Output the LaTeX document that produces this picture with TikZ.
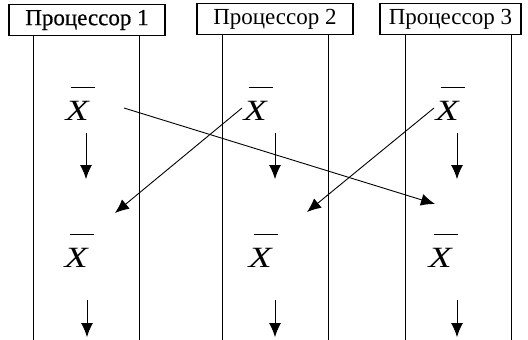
\documentclass[tikz,border=0pt]{standalone}
\usepackage{fontspec}
\setmainfont{Liberation Serif}
\newfontfamily\boxonefont[FakeBold=0.5]{Liberation Serif}
\usetikzlibrary{arrows.meta}
\newcommand\barredX{\vbox{\moveright 5pt\vbox{\hrule width 24pt height 0.9pt}\kern 3pt\hbox{\scalebox{1.35}[1.05]{\itshape X}}}}
\begin{document}
\begin{tikzpicture}[x=1pt,y=-1pt,
  procbox/.style={draw,line width=1.2pt,minimum height=31pt,inner sep=0pt,font=\fontsize{23}{25}\selectfont},
  lane/.style={line width=0.9pt},
  xlabel/.style={inner sep=0pt,font=\fontsize{28}{30}\selectfont},
  arr/.style={line width=0.9pt,-{Latex[length=14pt,width=12pt]}}]
\useasboundingbox (0,0) rectangle (528,340);
\node[procbox,minimum width=156pt,font=\boxonefont\fontsize{23}{25}\selectfont] (p1) at (87,20) {Процессор 1};
\node[procbox,minimum width=156pt] (p2) at (275,19) {Процессор 2};
\node[procbox,minimum width=141pt] (p3) at (450.5,19) {Процессор 3};
% lanes
\coordinate (l1a) at (33,340); \coordinate (l1b) at (139,340);
\coordinate (l2a) at (222,340); \coordinate (l2b) at (328,340);
\coordinate (l3a) at (405,340); \coordinate (l3b) at (511,340);
\draw[lane] (l1a) -- (l1a |- p1.south);
\draw[lane] (l1b) -- (l1b |- p1.south);
\draw[lane] (l2a) -- (l2a |- p2.south);
\draw[lane] (l2b) -- (l2b |- p2.south);
\draw[lane] (l3a) -- (l3a |- p3.south);
\draw[lane] (l3b) -- (l3b |- p3.south);
% labels
\node[xlabel] (x1a) at (80,104) {\barredX};
\node[xlabel] (x2a) at (258,104) {\barredX};
\node[xlabel] (x3a) at (450,104) {\barredX};
\node[xlabel] (x1b) at (79,251) {\barredX};
\node[xlabel] (x2b) at (263,251) {\barredX};
\node[xlabel] (x3b) at (443,251) {\barredX};
% down arrows
\coordinate (d1s) at (86,133); \coordinate (d1e) at (86,179);
\coordinate (d2s) at (275,133); \coordinate (d2e) at (275,179);
\coordinate (d3s) at (457,133); \coordinate (d3e) at (457,179);
\coordinate (e1s) at (87,300); \coordinate (e1e) at (87,337);
\coordinate (e2s) at (275,300); \coordinate (e2e) at (275,337);
\coordinate (e3s) at (457,300); \coordinate (e3e) at (457,337);
\draw[arr] (d1s) -- (d1e);
\draw[arr] (d2s) -- (d2e);
\draw[arr] (d3s) -- (d3e);
\draw[arr] (e1s) -- (e1e);
\draw[arr] (e2s) -- (e2e);
\draw[arr] (e3s) -- (e3e);
% cross arrows
\coordinate (c1s) at (124,108); \coordinate (c1e) at (435,204);
\coordinate (c2s) at (242,108); \coordinate (c2e) at (115,213);
\coordinate (c3s) at (434,108); \coordinate (c3e) at (307,212);
\draw[arr] (c1s) -- (c1e);
\draw[arr] (c2s) -- (c2e);
\draw[arr] (c3s) -- (c3e);
\end{tikzpicture}
\end{document}
